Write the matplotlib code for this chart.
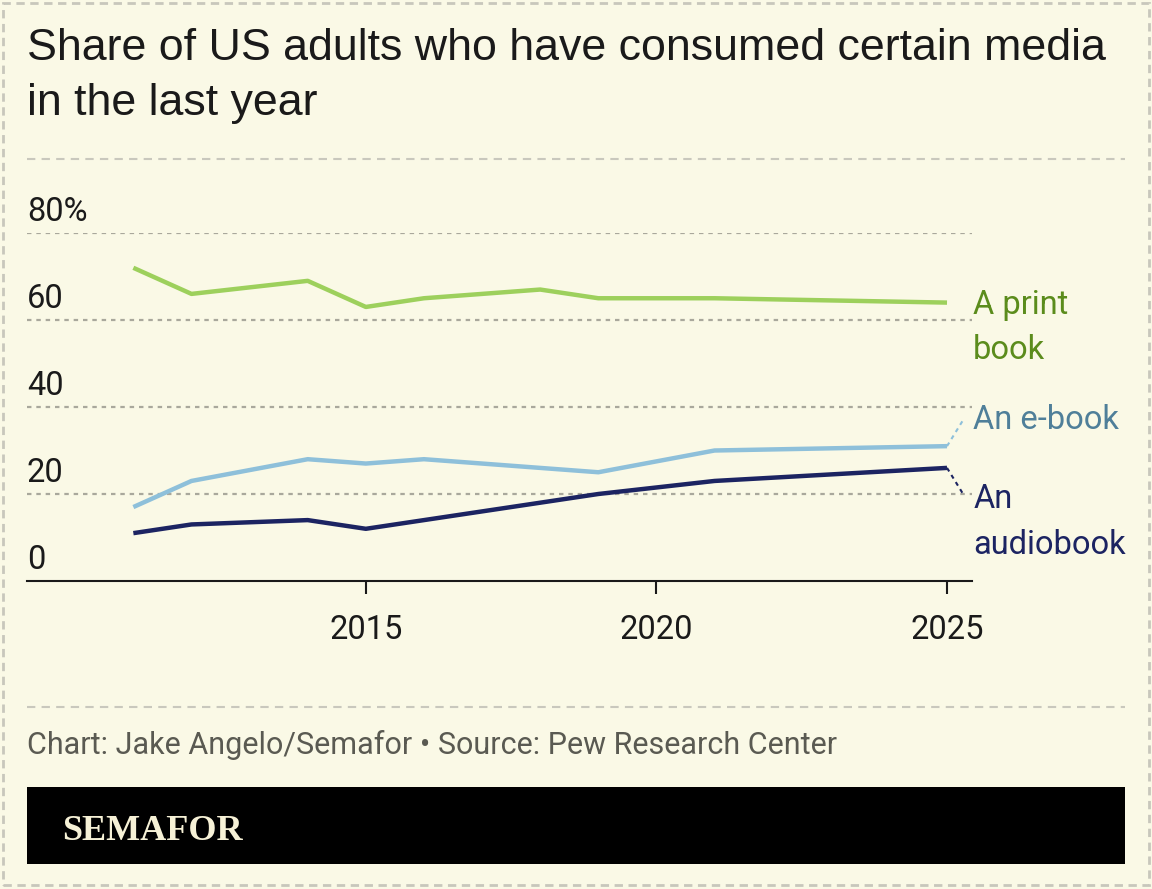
import matplotlib.pyplot as plt
from matplotlib.patches import Rectangle
from matplotlib.lines import Line2D
import matplotlib.transforms as mtransforms

years = [2011, 2012, 2014, 2015, 2016, 2018, 2019, 2021, 2025]
print_book = [72, 66, 69, 63, 65, 67, 65, 65, 64]
ebook = [17, 23, 28, 27, 28, 26, 25, 30, 31]
audiobook = [11, 13, 14, 12, 14, 18, 20, 23, 26]

y_ticks = [0, 20, 40, 60, 80]
y_tick_labels = ['0', '20', '40', '60', '80%']
x_ticks = [2015, 2020, 2025]

BG = '#faf9e6'
GRID = '#a9a89c'
GREEN, GREEN_TXT = '#9dd05c', '#5b8c1c'
BLUE, BLUE_TXT = '#8ec0da', '#4f7f99'
NAVY = '#1c2462'
FONT = 'Roboto'
FS = 23.5

W, H = 1152, 889
fig = plt.figure(figsize=(W / 100, H / 100), dpi=100)
fig.patch.set_facecolor(BG)


def fx(px):
    return px / W


def fy(py):
    return 1 - py / H


# outer dashed border
fig.add_artist(Rectangle((fx(3), fy(885)), fx(1146), 882 / H, transform=fig.transFigure,
                         fill=False, edgecolor='#c8c7bc', lw=2, linestyle=(0, (3, 2))))

fig.text(fx(27), fy(60), 'Share of US adults who have consumed certain media',
         fontsize=32.2, family='Liberation Sans', color='#1a1a1a', va='baseline')
fig.text(fx(27), fy(115), 'in the last year',
         fontsize=32.2, family='Liberation Sans', color='#1a1a1a', va='baseline')

for py in (159, 707):
    fig.add_artist(Line2D([fx(27), fx(1125)], [fy(py), fy(py)], transform=fig.transFigure,
                          color='#c9c8bd', lw=1.5, linestyle=(0, (4, 3))))

ax = fig.add_axes([fx(27), fy(581), fx(972) - fx(27), (581 - 233) / H])
ax.set_facecolor('none')
ax.set_xlim(2009.17, 2025.43)
ax.set_ylim(0, 80)

for v in y_ticks[1:]:
    ax.axhline(v, color=GRID, lw=1.6, linestyle=(0, (2, 2.2)), zorder=1)

ax.plot(years, print_book, color=GREEN, lw=3.2, zorder=3, solid_capstyle='butt')
ax.plot(years, ebook, color=BLUE, lw=3.2, zorder=3, solid_capstyle='butt')
ax.plot(years, audiobook, color=NAVY, lw=3.2, zorder=4, solid_capstyle='butt')

for s in ('top', 'right', 'left'):
    ax.spines[s].set_visible(False)
ax.spines['bottom'].set_color('#1a1a1a')
ax.spines['bottom'].set_linewidth(1.5)
ax.set_yticks([])
ax.set_xticks(x_ticks)
ax.set_xticklabels([str(x) for x in x_ticks], fontsize=FS, family=FONT, color='#1a1a1a')
ax.tick_params(axis='x', length=9, width=1.5, color='#1a1a1a', pad=15)

ylab_tr = mtransforms.offset_copy(
    mtransforms.blended_transform_factory(ax.transAxes, ax.transData), fig=fig, y=12, units='dots')
for v, lab in zip(y_ticks, y_tick_labels):
    ax.text(0, v, lab, transform=ylab_tr, fontsize=FS, family=FONT, color='#1a1a1a',
            va='baseline', ha='left')

# leaders and end labels
lx = 2025.3
ax.plot([years[-1], lx], [ebook[-1], 37.5], color=BLUE, lw=1.5, linestyle=(0, (2, 2)), clip_on=False)
ax.plot([years[-1], lx], [audiobook[-1], 19.5], color=NAVY, lw=1.5, linestyle=(0, (2, 2)), clip_on=False)

end_labels = [('A print', 61.4, GREEN_TXT), ('book', 51.0, GREEN_TXT),
              ('An e-book', 34.9, BLUE_TXT),
              ('An', 16.8, NAVY), ('audiobook', 6.2, NAVY)]
for txt, yv, col in end_labels:
    ax.text(2025.45, yv, txt, fontsize=FS, family=FONT, color=col,
            va='baseline', ha='left', clip_on=False)

fig.text(fx(27), fy(754), 'Chart: Jake Angelo/Semafor \u2022 Source: Pew Research Center',
         fontsize=22, family=FONT, color='#5a5a52', va='baseline')

fig.add_artist(Rectangle((fx(27), fy(864)), fx(1098), 77 / H, transform=fig.transFigure,
                         facecolor='black', edgecolor='none'))
fig.text(fx(62), fy(840), 'SEMAFOR', fontsize=26, family='Liberation Serif', weight='bold',
         color='#f6f1d6', va='baseline')

fig.savefig('out.png', dpi=100, facecolor=BG)
